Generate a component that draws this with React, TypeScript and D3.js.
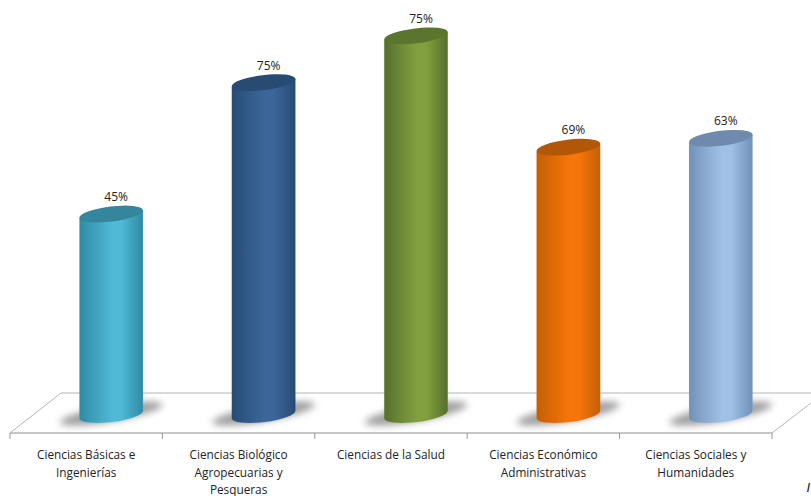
import * as d3 from "d3"

const categories = [
  ["Ciencias Básicas e", "Ingenierías"],
  ["Ciencias Biológico", "Agropecuarias y", "Pesqueras"],
  ["Ciencias de la Salud"],
  ["Ciencias Económico", "Administrativas"],
  ["Ciencias Sociales y", "Humanidades"],
]
// the printed labels do not agree with the bar heights, so both are kept
const valueLabels = ["45%", "75%", "75%", "69%", "63%"]
const barValues = [45, 74.5, 85, 60, 62]
const edgeColors = ["#2f8aa3", "#274b74", "#566f2c", "#c45f06", "#7192b8"]
const midColors = ["#4fb9d6", "#3c6699", "#82a03f", "#f7750a", "#a0c0e6"]
const topColors = ["#34869c", "#274b73", "#5c752d", "#b25707", "#6e8bad"]

const width = 811
const height = 496
const font = "'Open Sans', sans-serif"

const margin = {left: 10, right: 39, front: 433, back: 393}
const depth = 25 // cylinders stand this far in from the band centre
const baseY = 414.5
const rx = 32
const ry = 7.5
const tilt = 7

const x = d3
  .scaleBand<number>()
  .domain(d3.range(categories.length))
  .range([margin.left, width - margin.right])
const y = d3.scaleLinear().domain([0, 100]).range([baseY, baseY - 445.5])

const dx = rx * Math.cos((tilt * Math.PI) / 180)
const dy = rx * Math.sin((tilt * Math.PI) / 180)

function bodyPath(cx: number, top: number) {
  const p = d3.path()
  p.moveTo(cx - dx, top + dy)
  p.lineTo(cx - dx, baseY + dy)
  const arc = `A${rx},${ry} ${-tilt} 0 0 ${cx + dx},${baseY - dy}`
  return p.toString() + arc + `L${cx + dx},${top - dy}Z`
}

export default function App() {
  const edges = [...x.domain().map((i) => x(i)!), x.range()[1]]
  const floorRight = x.range()[1]

  return (
    <svg
      width={width}
      height={height}
      style={{position: "absolute", left: 0, top: 0, background: "#fff"}}
    >
      <defs>
        <filter id="blur" x="-30%" y="-100%" width="160%" height="300%">
          <feGaussianBlur stdDeviation="3.5" />
        </filter>
        {categories.map((_, i) => (
          <linearGradient key={i} id={`cyl${i}`} x1="0" x2="1" y1="0" y2="0">
            <stop offset="0%" stopColor={edgeColors[i]} />
            <stop offset="25%" stopColor={d3.interpolateRgb(edgeColors[i], midColors[i])(0.5)} />
            <stop offset="52%" stopColor={midColors[i]} />
            <stop offset="66%" stopColor={midColors[i]} />
            <stop offset="100%" stopColor={edgeColors[i]} />
          </linearGradient>
        ))}
      </defs>

      {/* floor */}
      <g fill="none" stroke="#b4b4b4">
        <path
          d={`M${margin.left},${margin.front}L61,${margin.back}L${width},${margin.back}`}
          strokeWidth={1}
        />
        <path d={`M${floorRight},${margin.front}L${width},403`} strokeWidth={1} />
        <path
          d={`M${margin.left},${margin.front}H${floorRight}`}
          strokeWidth={1.5}
        />
        {edges.map((e) => (
          <line key={e} x1={e} x2={e} y1={margin.front} y2={439} stroke="#999" />
        ))}
      </g>

      {barValues.map((v, i) => {
        const cx = x(i)! + x.bandwidth() / 2 + depth
        const top = y(v)
        return (
          <g key={i}>
            <ellipse
              cx={cx}
              cy={baseY - 1}
              rx={rx + 20}
              ry={8}
              fill="#a0a0a0"
              filter="url(#blur)"
              transform={`rotate(${-tilt - 3} ${cx} ${baseY - 1})`}
            />
            <path
              d={bodyPath(cx, top)}
              fill={`url(#cyl${i})`}
              stroke={midColors[i]}
              strokeOpacity={0.2}
            />
            <ellipse
              cx={cx}
              cy={top}
              rx={rx}
              ry={ry}
              fill={topColors[i]}
              transform={`rotate(${-tilt} ${cx} ${top})`}
            />
            <text
              x={cx + 5}
              y={top - 13}
              textAnchor="middle"
              fontFamily={font}
              fontSize={12}
              fill="#222"
            >
              {valueLabels[i]}
            </text>
            <text
              textAnchor="middle"
              fontFamily={font}
              fontSize={11.8}
              fill="#222"
            >
              {categories[i].map((line, j) => (
                <tspan key={j} x={x(i)! + x.bandwidth() / 2} y={459 + j * 17.5}>
                  {line}
                </tspan>
              ))}
            </text>
          </g>
        )
      })}

      {/* cut-off note at the page edge */}
      <text
        x={806.5}
        y={492}
        fontFamily="'Liberation Sans', sans-serif"
        fontStyle="italic"
        fontSize={13}
        fill="#111"
      >
        I
      </text>
    </svg>
  )
}
